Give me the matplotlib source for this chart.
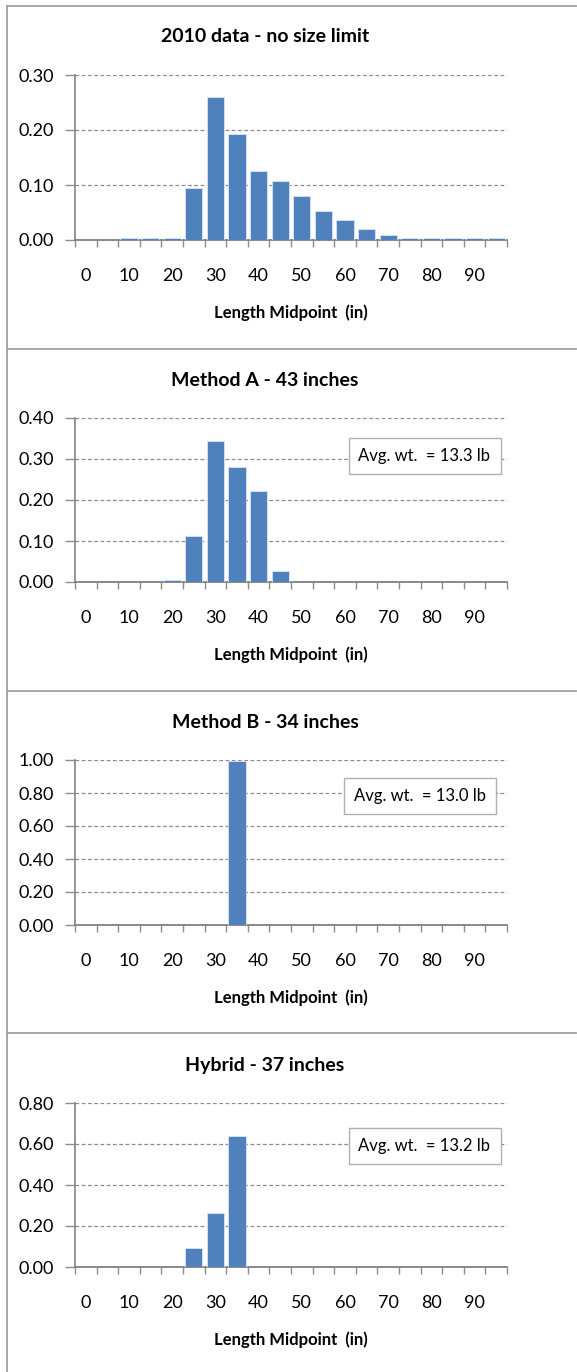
import matplotlib
matplotlib.use('Agg')
import matplotlib.pyplot as plt
from matplotlib.lines import Line2D
import numpy as np

plt.rcParams.update({'font.family': ['Lato', 'DejaVu Sans']})

# ---------------- data ----------------
lengths = [0, 5, 10, 15, 20, 25, 30, 35, 40, 45, 50, 55, 60, 65, 70, 75, 80, 85, 90, 95]
tick_labels = ['0', '10', '20', '30', '40', '50', '60', '70', '80', '90']

freq_2010 = [0, 0, 0.004, 0.004, 0.004, 0.094, 0.260, 0.192, 0.126, 0.108,
             0.080, 0.053, 0.036, 0.020, 0.009, 0.004, 0.004, 0.004, 0.004, 0.004]
freq_a = [0, 0, 0, 0, 0.004, 0.111, 0.344, 0.281, 0.222, 0.027,
          0, 0, 0, 0, 0, 0, 0, 0, 0, 0]
freq_b = [0, 0, 0, 0, 0, 0, 0, 0.995, 0, 0,
          0, 0, 0, 0, 0, 0, 0, 0, 0, 0]
freq_h = [0, 0, 0, 0, 0, 0.091, 0.261, 0.637, 0, 0,
          0, 0, 0, 0, 0, 0, 0, 0, 0, 0]

titles = ['2010 data - no size limit', 'Method A - 43 inches',
          'Method B - 34 inches', 'Hybrid - 37 inches']
avg_wt = [None, 'Avg. wt.  = 13.3 lb', 'Avg. wt.  = 13.0 lb', 'Avg. wt.  = 13.2 lb']
y_max = [0.30, 0.40, 1.00, 0.80]
y_step = [0.10, 0.10, 0.20, 0.20]
series = [freq_2010, freq_a, freq_b, freq_h]

# ---------------- layout (pixels) ----------------
W, H = 577, 1372
BAR = '#4F81BD'
GRID = '#8c8c8c'
AXC = '#8c8c8c'

panel_top = [6, 349, 691, 1033]
plot_top = [75, 418, 760, 1103]
plot_bot = [240, 582, 925, 1267]
ax_left, ax_right = 75, 507
box_x = [None, (348, 501), (342, 498), (348, 501)]
box_y = [None, (438, 474), (778, 814), (1128, 1163)]

fig = plt.figure(figsize=(W / 100, H / 100), dpi=100)

def fx(px):
    return px / W

def fy(py):
    return 1 - py / H

# panel separators + left border
for pt in panel_top:
    fig.add_artist(Line2D([fx(7), fx(576)], [fy(pt), fy(pt)], color='#a0a0a0', lw=1.3))
fig.add_artist(Line2D([fx(7), fx(7)], [fy(6), fy(H)], color='#a0a0a0', lw=1.3))

x = np.arange(len(lengths))
for i in range(4):
    ax = fig.add_axes([fx(ax_left), fy(plot_bot[i]), fx(ax_right - ax_left),
                       (plot_bot[i] - plot_top[i]) / H])
    ax.bar(x, series[i], width=0.8, color=BAR, edgecolor='#dbe5f1', lw=0.6, zorder=3)
    ax.set_xlim(-0.5, len(lengths) - 0.5)
    ax.set_ylim(0, y_max[i])
    yt = np.arange(0, y_max[i] + 1e-9, y_step[i])
    ax.set_yticks(yt)
    ax.set_yticklabels([f'{v:.2f}' for v in yt], fontsize=13)
    ax.yaxis.grid(True, ls=(0, (3, 2)), color=GRID, lw=0.9, zorder=0)
    # category ticks at boundaries, labels at every other category centre
    ax.set_xticks(np.arange(-0.5, len(lengths)), minor=False)
    ax.set_xticklabels([])
    ax.set_xticks(x[::2], minor=True)
    ax.set_xticklabels(tick_labels, minor=True, fontsize=13)
    ax.tick_params(axis='x', which='major', length=5, width=1, color=AXC, direction='out')
    ax.tick_params(axis='x', which='minor', length=0, pad=20)
    ax.tick_params(axis='y', length=7, width=1, color=AXC, direction='out', pad=8)
    for s in ['top', 'right']:
        ax.spines[s].set_visible(False)
    ax.spines['left'].set_color(AXC)
    ax.spines['left'].set_linewidth(1.3)
    ax.spines['bottom'].set_color('#808080')
    ax.spines['bottom'].set_linewidth(1.3)
    ax.set_axisbelow(True)

    # title + axis label
    fig.text(fx(265), fy(plot_top[i] - 38), titles[i], ha='center', va='center',
             fontsize=14, fontweight='bold')
    fig.text(fx(291), fy(plot_bot[i] + 73), 'Length Midpoint  (in)', ha='center',
             va='center', fontsize=12, fontweight='bold')

    if avg_wt[i]:
        (x0, x1), (y0, y1) = box_x[i], box_y[i]
        fig.text(fx((x0 + x1) / 2), fy((y0 + y1) / 2), avg_wt[i], ha='center',
                 va='center', fontsize=12,
                 bbox=dict(boxstyle='square,pad=0.6', fc='white', ec='#b0b0b0', lw=1))

fig.savefig('out.png', dpi=100)
